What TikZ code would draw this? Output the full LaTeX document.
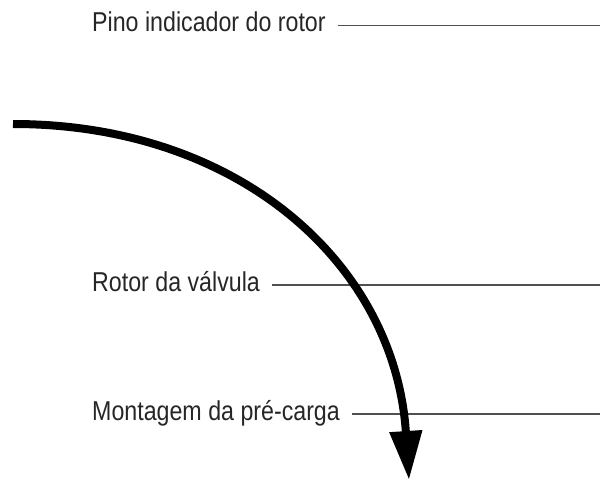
\documentclass[tikz,border=0pt]{standalone}
\usepackage{fontspec}
\setmainfont[FakeStretch=0.85]{Liberation Sans}
\usetikzlibrary{arrows.meta}
\definecolor{txtgray}{HTML}{262626}
\definecolor{leadgray}{HTML}{505050}

\begin{document}
\begin{tikzpicture}[x=1pt,y=-1pt,
  callout/.style={anchor=base west,inner xsep=12pt,inner ysep=0pt,text height=13pt,text depth=0pt,
    text=txtgray,font=\fontsize{27.3}{32}\selectfont},
  leader/.style={draw=leadgray,line width=1.1pt}]
\useasboundingbox (0,0) rectangle (600,481);
\coordinate (edge) at (600,0);
\node[callout] (pino) at (80,32) {Pino indicador do rotor};
\node[callout] (rotor) at (80,291.5) {Rotor da válvula};
\node[callout] (carga) at (80,420.5) {Montagem da pré-carga};
\draw[leader] (pino.east) -- (pino.east -| edge);
\draw[leader] (rotor.east) -- (rotor.east -| edge);
\draw[leader] (carga.east) -- (carga.east -| edge);
% rotation arrow
\coordinate (start) at (13,124);
\coordinate (tip) at (409,480);
\draw[line width=8pt,-{Triangle[length=49pt,width=31pt]}] (start) .. controls (240,124) and (395,265) .. (tip);
\end{tikzpicture}
\end{document}
